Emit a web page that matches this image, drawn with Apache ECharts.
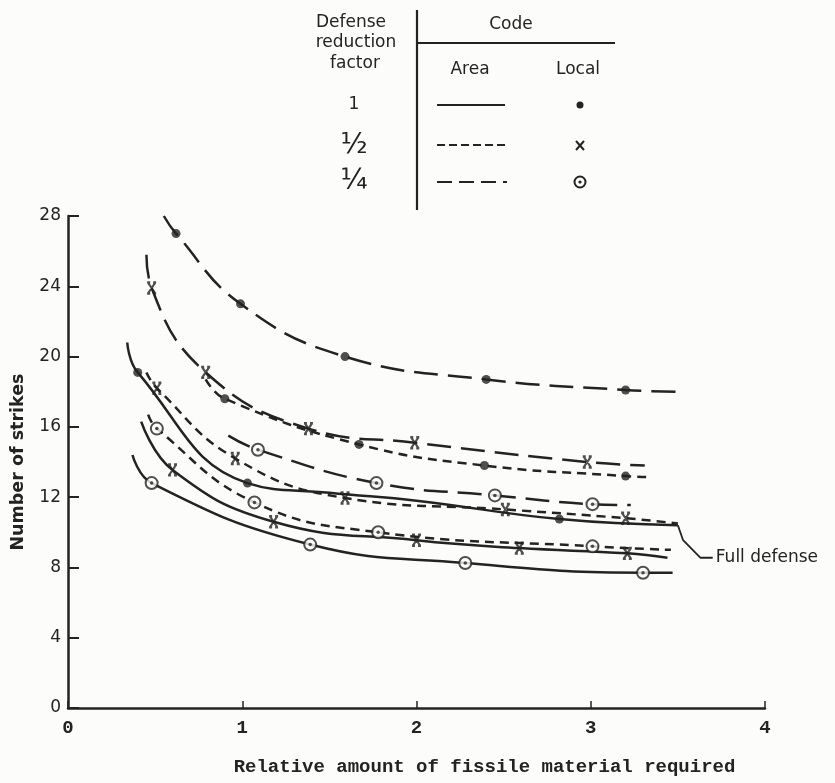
<!DOCTYPE html>
<html>
<head>
<meta charset="utf-8">
<title>Number of strikes vs fissile material</title>
<script src="https://cdn.jsdelivr.net/npm/echarts@6/dist/echarts.min.js"></script>
<style>
  html, body { margin: 0; padding: 0; background: #fcfcfb; }
  #chart { width: 835px; height: 783px; }
</style>
</head>
<body>
<div id="chart"></div>
<script>
// Axis ticks
const xTicks = [0, 1, 2, 3, 4];
const yTicks = [0, 4, 8, 12, 16, 20, 24, 28];

// Curves: [relative fissile amount, number of strikes, 1 = plotted point / 0 = curve end]
// Named by defense reduction factor: area code (line style) / local code (marker)
const area14_local1 = [[0.55, 28.0, 0], [0.62, 27.0, 1], [0.99, 23.0, 1], [1.59, 20.0, 1], [2.40, 18.7, 1], [3.20, 18.1, 1], [3.50, 18.0, 0]];
const area14_local12 = [[0.45, 25.8, 0], [0.48, 23.9, 1], [0.79, 19.1, 1], [1.38, 15.9, 1], [1.99, 15.1, 1], [2.98, 14.0, 1], [3.31, 13.8, 0]];
const area12_local1 = [[0.79, 18.7, 0], [0.90, 17.6, 1], [1.67, 15.0, 1], [2.39, 13.8, 1], [3.20, 13.2, 1], [3.32, 13.15, 0]];
const area1_local1 = [[0.34, 20.8, 0], [0.40, 19.1, 1], [1.03, 12.8, 1], [1.50, 12.25, 0], [2.00, 11.8, 0], [2.82, 10.75, 1], [3.50, 10.4, 0]];
const area12_local12 = [[0.45, 19.1, 0], [0.51, 18.2, 1], [0.96, 14.2, 1], [1.59, 11.95, 1], [2.51, 11.3, 1], [3.20, 10.8, 1], [3.50, 10.5, 0]];
const area14_local14 = [[0.92, 15.5, 0], [1.09, 14.7, 1], [1.77, 12.8, 1], [2.45, 12.1, 1], [3.01, 11.6, 1], [3.23, 11.55, 0]];
const area12_local14 = [[0.46, 16.7, 0], [0.51, 15.9, 1], [1.07, 11.7, 1], [1.78, 10.0, 1], [3.01, 9.2, 1], [3.46, 9.0, 0]];
const area1_local12 = [[0.42, 16.3, 0], [0.60, 13.55, 1], [1.18, 10.6, 1], [2.00, 9.55, 1], [2.59, 9.1, 1], [3.21, 8.8, 1], [3.44, 8.55, 0]];
const area1_local14 = [[0.37, 14.4, 0], [0.48, 12.8, 1], [1.39, 9.3, 1], [2.28, 8.25, 1], [3.30, 7.7, 1], [3.47, 7.7, 0]];

// Leader from the full-defense curve to its label
const fullDefenseLeader = [[3.50, 10.4], [3.53, 9.55], [3.63, 8.55], [3.70, 8.55]];
const fullDefenseText = 'Full defense';

const INK = '#232323';
const PAPER = '#fcfcfb';
const SOLID = 'solid';
const SHORT = [9, 6];
const LONG = [24, 10];

const curves = [
  { name: 'area14_local1', pts: area14_local1, dash: LONG, mark: 'dot' },
  { name: 'area14_local12', pts: area14_local12, dash: LONG, mark: 'x' },
  { name: 'area12_local1', pts: area12_local1, dash: SHORT, mark: 'dot' },
  { name: 'area1_local1', pts: area1_local1, dash: SOLID, mark: 'dot' },
  { name: 'area12_local12', pts: area12_local12, dash: SHORT, mark: 'x' },
  { name: 'area14_local14', pts: area14_local14, dash: LONG, mark: 'ring' },
  { name: 'area12_local14', pts: area12_local14, dash: SHORT, mark: 'ring' },
  { name: 'area1_local12', pts: area1_local12, dash: SOLID, mark: 'x' },
  { name: 'area1_local14', pts: area1_local14, dash: SOLID, mark: 'ring' }
];

const X_PATH = 'path://M0,0L10,12M10,0L0,12M-1,0L3,0M7,0L11,0M-1,12L3,12M7,12L11,12';

function markerSeries(c) {
  const pts = c.pts.filter(p => p[2] === 1).map(p => [p[0], p[1]]);
  const out = [];
  if (c.mark === 'dot') {
    out.push({ type: 'scatter', name: c.name + '_pts', data: pts, symbol: 'circle', symbolSize: 9,
      itemStyle: { color: INK }, z: 5, silent: true });
  } else if (c.mark === 'x') {
    out.push({ type: 'scatter', name: c.name + '_pts', data: pts, symbol: X_PATH, symbolSize: [9, 11],
      itemStyle: { color: 'rgba(0,0,0,0)', borderColor: INK, borderWidth: 2.2 }, z: 5, silent: true });
  } else {
    out.push({ type: 'scatter', name: c.name + '_pts', data: pts, symbol: 'circle', symbolSize: 12,
      itemStyle: { color: PAPER, borderColor: INK, borderWidth: 2 }, z: 5, silent: true });
    out.push({ type: 'scatter', name: c.name + '_ctr', data: pts, symbol: 'circle', symbolSize: 3.5,
      itemStyle: { color: INK }, z: 6, silent: true });
  }
  return out;
}

const series = [];
curves.forEach(c => {
  series.push({
    type: 'line', name: c.name,
    data: c.pts.map(p => [p[0], p[1]]),
    smooth: 0.45,
    showSymbol: false, symbol: 'none',
    lineStyle: { color: INK, width: 2.5, type: c.dash, cap: 'butt' },
    clip: true, silent: true, z: 3
  });
  markerSeries(c).forEach(s => series.push(s));
});

series.push({
  type: 'line', name: 'fullDefenseLeader',
  data: fullDefenseLeader.map((p, i) => i === fullDefenseLeader.length - 1
    ? { value: p, label: { show: true, position: 'right', distance: 3, formatter: fullDefenseText,
        fontFamily: 'DejaVu Sans', fontSize: 17, color: INK } }
    : p),
  symbol: 'circle', showSymbol: true, symbolSize: 0.1,
  lineStyle: { color: INK, width: 1.8 }, clip: false, silent: true, z: 3
});

// Key table in the upper part of the figure
function keyText(text, x, y, size) {
  return { type: 'text', x: x, y: y, silent: true,
    style: { text: text, font: (size || 17) + 'px "DejaVu Sans"', fill: INK, align: 'center', verticalAlign: 'middle' } };
}
function keyLine(x1, y1, x2, y2, w, dash) {
  return { type: 'line', silent: true, shape: { x1: x1, y1: y1, x2: x2, y2: y2 },
    style: { stroke: INK, lineWidth: w, lineDash: dash || null } };
}
const graphic = [
  keyText('Defense', 351, 23),
  keyText('reduction', 356, 43),
  keyText('factor', 355, 64),
  keyLine(417, 10, 417, 210, 2.2),
  keyText('Code', 511, 25),
  keyLine(417, 43, 615, 43, 1.8),
  keyText('Area', 470, 70),
  keyText('Local', 578, 70),
  keyText('1', 354, 105),
  keyText('½', 354, 146, 28),
  keyText('¼', 354, 182, 28),
  keyLine(437, 105, 505, 105, 2),
  keyLine(437, 145, 507, 145, 2, [8, 4]),
  keyLine(437, 182, 507, 182, 2, [15, 7]),
  { type: 'circle', silent: true, shape: { cx: 580, cy: 105, r: 3.5 }, style: { fill: INK } },
  keyLine(576, 141, 584, 150, 2),
  keyLine(584, 141, 576, 150, 2),
  { type: 'circle', silent: true, shape: { cx: 580, cy: 182, r: 5.5 }, style: { fill: PAPER, stroke: INK, lineWidth: 2 } },
  { type: 'circle', silent: true, shape: { cx: 580, cy: 182, r: 1.6 }, style: { fill: INK } }
];

const chart = echarts.init(document.getElementById('chart'), null, { renderer: 'canvas' });
chart.setOption({
  backgroundColor: PAPER,
  animation: false,
  grid: { left: 68, right: 70, top: 216, bottom: 75, containLabel: false },
  xAxis: {
    type: 'value', min: 0, max: 4, interval: 1,
    name: 'Relative amount of fissile material required',
    nameLocation: 'middle', nameGap: 50,
    nameTextStyle: { fontFamily: 'Liberation Mono', fontWeight: 'bold', fontSize: 19, color: INK, padding: [0, 0, 0, 136] },
    axisLine: { show: true, lineStyle: { color: INK, width: 2.5 } },
    axisTick: { show: true, inside: true, length: 7, lineStyle: { color: INK, width: 1.5 } },
    axisLabel: { fontFamily: 'Liberation Mono', fontWeight: 'bold', fontSize: 19, color: INK, margin: 11,
      formatter: v => String(xTicks[xTicks.indexOf(v)]) },
    splitLine: { show: false }
  },
  yAxis: {
    type: 'value', min: 0, max: 28, interval: 4,
    name: 'Number of strikes',
    nameLocation: 'middle', nameGap: 41, nameRotate: 90,
    nameTextStyle: { fontFamily: 'DejaVu Sans', fontWeight: 'bold', fontSize: 17.5, color: INK },
    axisLine: { show: true, lineStyle: { color: INK, width: 2.5 } },
    axisTick: { show: true, inside: true, length: 11, lineStyle: { color: INK, width: 2 } },
    axisLabel: { fontFamily: 'DejaVu Sans', fontSize: 17, color: INK, margin: 7,
      formatter: v => String(yTicks[yTicks.indexOf(v)]) },
    splitLine: { show: false }
  },
  graphic: graphic,
  series: series
});
</script>
</body>
</html>
